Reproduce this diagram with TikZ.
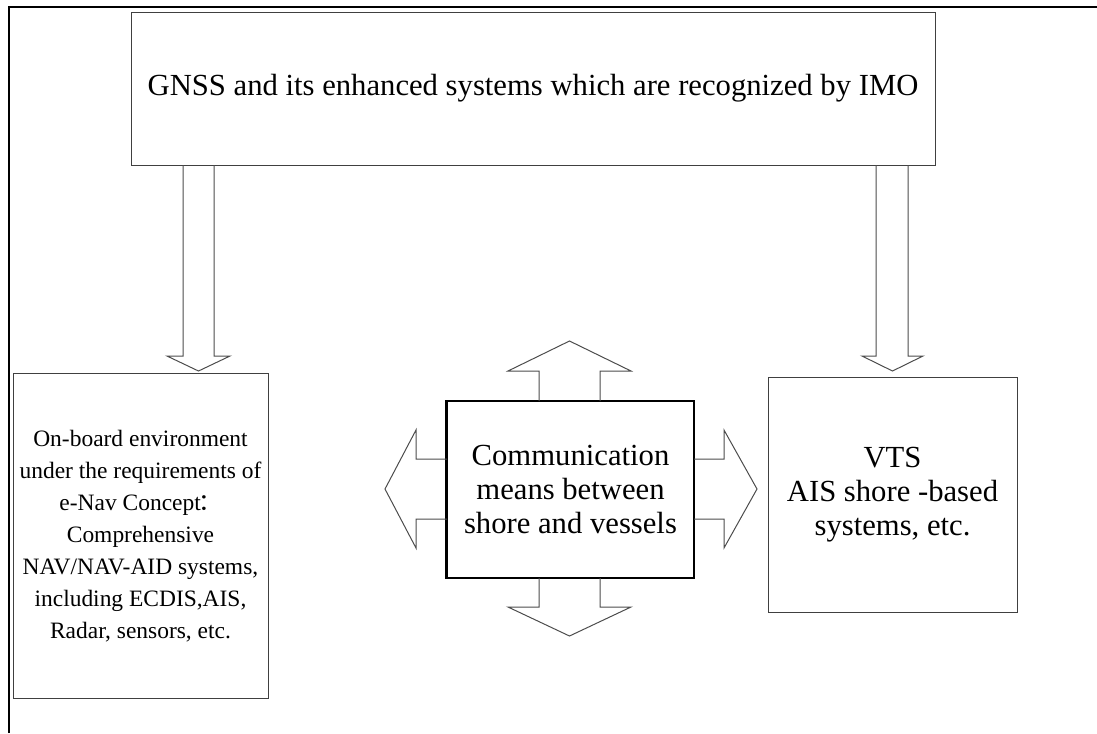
\documentclass[tikz,border=0pt]{standalone}
\usepackage{fontspec}
\setmainfont{Liberation Serif}
\newfontfamily\cjk{Noto Sans CJK SC}
\usetikzlibrary{positioning}

\begin{document}
\begin{tikzpicture}[x=0.75pt, y=-0.75pt,
  box/.style={draw=black!75, line width=0.75pt, align=center, inner sep=0pt},
  bigtxt/.style={font=\fontsize{23}{25.5}\selectfont},
  smalltxt/.style={font=\fontsize{17.6}{24}\selectfont},
  blockarrow/.style={draw=black!70, line width=0.75pt, line join=miter}]
  \useasboundingbox (0,0) rectangle (1097,733);
  % page frame
  \draw[line width=1.5pt] (9,733) -- (9,7) -- (1097,7);
  % boxes
  \node[box, bigtxt, minimum width=603pt, minimum height=114.75pt] (gnss) at (533,88.5)
    {GNSS and its enhanced systems which are recognized by IMO};
  \node[box, smalltxt, minimum width=191.25pt, minimum height=243.75pt] (board) at (140.5,536)
    {On-board environment\\under the requirements of\\e-Nav Concept\kern-0.12em{\cjk ：}\\Comprehensive\\NAV/NAV-AID systems,\\including ECDIS,AIS,\\Radar, sensors, etc.};
  \node[box, bigtxt, draw=black, line width=0.9pt, minimum width=185.25pt, minimum height=132.75pt] (comm) at (570.5,489.5)
    {Communication\\means between\\shore and vessels};
  \draw[line width=1.5pt] (comm.north west) -- (comm.south west);
  \node[box, bigtxt, minimum width=186.75pt, minimum height=176.25pt] (vts) at (892.5,494.5)
    {VTS\\AIS shore -based\\systems, etc.};
  % arrows from the GNSS box
  \draw[blockarrow] (183,165) -- (183,356) -- (167,356) -- (198.5,371) -- (230,356) -- (214,356) -- (214,165);
  \draw[blockarrow] (876,165) -- (876,356) -- (862,356) -- (892.5,371) -- (923,356) -- (908,356) -- (908,165);
  % arrows out of the communication box
  \draw[blockarrow] (539,401) -- (539,371) -- (508,371) -- (569.5,341) -- (631,371) -- (600,371) -- (600,401);
  \draw[blockarrow] (539,578) -- (539,607) -- (508,607) -- (569.5,636) -- (631,607) -- (600,607) -- (600,578);
  \draw[blockarrow] (447,459) -- (416,459) -- (416,430) -- (385,489) -- (416,548) -- (416,519) -- (447,519);
  \draw[blockarrow] (694,459) -- (724,459) -- (724,430) -- (757,489) -- (724,548) -- (724,519) -- (694,519);
\end{tikzpicture}
\end{document}
